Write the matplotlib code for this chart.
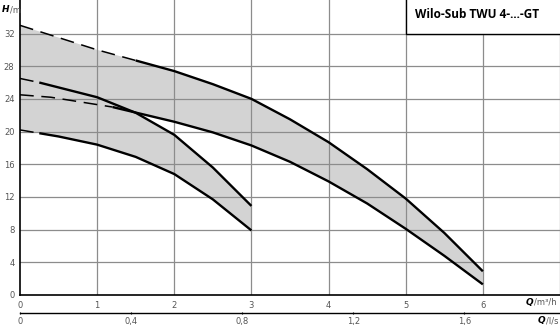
import numpy as np
import matplotlib.pyplot as plt
from matplotlib.patches import Rectangle

# Kennlinien (Q in m³/h, H in m)
top_q = [0, 0.5, 1, 1.5, 2, 2.5, 3, 3.5, 4, 4.5, 5, 5.5, 6]
top_h = [33.0, 31.5, 30.0, 28.7, 27.4, 25.8, 24.0, 21.5, 18.7, 15.4, 11.8, 7.6, 2.9]
top_break = 1.5

low_q = [0, 0.4, 0.8, 1.2, 1.6, 2, 2.5, 3, 3.5, 4, 4.5, 5, 5.5, 6]
low_h = [24.5, 24.2, 23.6, 23.0, 22.1, 21.2, 19.9, 18.3, 16.3, 13.9, 11.2, 8.1, 4.8, 1.3]
low_break = 1.2

mid_q = [0, 0.25, 0.5, 1, 1.5, 2, 2.5, 3]
mid_h = [26.5, 26.0, 25.4, 24.2, 22.3, 19.6, 15.6, 10.9]
mid_break = 0.25

small_q = [0, 0.25, 0.5, 1, 1.5, 2, 2.5, 3]
small_h = [20.2, 19.8, 19.4, 18.4, 16.9, 14.8, 11.7, 7.9]
small_break = 0.25

x_ticks = [0, 1, 2, 3, 4, 5, 6]
y_ticks = [0, 4, 8, 12, 16, 20, 24, 28, 32]
ls_ticks = [0, 0.4, 0.8, 1.2, 1.6]
ls_labels = ['0', '0,4', '0,8', '1,2', '1,6']

W, H = 560, 326
fig = plt.figure(figsize=(W / 100, H / 100), dpi=100)
ax = fig.add_axes([20 / W, 31 / H, 540 / W, 295 / H])
ax.set_xlim(0, 7)
ax.set_ylim(0, 36.1)

fill_col = '#d3d3d3'
# Flaechen zwischen den Kennlinien
ax.fill(top_q + low_q[::-1], top_h + low_h[::-1], color=fill_col, lw=0, zorder=1)
ax.fill(mid_q + small_q[::-1], mid_h + small_h[::-1], color=fill_col, lw=0, zorder=1)

# Gitter
for x in range(1, 8):
    ax.axvline(x, color='#8c8c8c', lw=0.9, zorder=2)
for y in y_ticks[1:]:
    ax.axhline(y, color='#8c8c8c', lw=0.9, zorder=2)


def kurve(q, h, brk):
    q = np.array(q)
    h = np.array(h)
    d = q <= brk
    s = q >= brk
    ax.plot(q[d], h[d], color='black', lw=1.1, dashes=(9, 5), zorder=3)
    ax.plot(q[s], h[s], color='black', lw=1.7, solid_capstyle='butt',
            solid_joinstyle='round', zorder=3)


kurve(top_q, top_h, top_break)
kurve(low_q, low_h, low_break)
kurve(mid_q, mid_h, mid_break)
kurve(small_q, small_h, small_break)

for side in ['top', 'right']:
    ax.spines[side].set_visible(False)
ax.spines['left'].set_linewidth(1.2)
ax.spines['bottom'].set_linewidth(1.2)

tick_col = '#555555'
ax.set_xticks(x_ticks)
ax.set_yticks(y_ticks)
ax.tick_params(length=0, labelsize=6, labelcolor=tick_col, pad=4)

# Titelkasten
ax.add_patch(Rectangle((5, 32), 2.2, 5, facecolor='white', edgecolor='black',
                       lw=1.0, zorder=4, clip_on=False))
ax.text(5.12, 34.3, 'Wilo-Sub TWU 4-...-GT', fontsize=8.5, fontweight='bold',
        family='Open Sans', va='center', ha='left', zorder=5)

# zweite Achse l/s
sec = ax.secondary_xaxis(-0.061, functions=(lambda q: q / 3.6, lambda l: l * 3.6))
sec.set_xticks(ls_ticks)
sec.set_xticklabels(ls_labels)
sec.tick_params(length=2, width=0.8, labelsize=6, labelcolor=tick_col, pad=2,
                direction='inout')
sec.spines['bottom'].set_linewidth(1.0)

# Achsenbeschriftungen
fig.text(2 / W, 1 - 10 / H, 'H', fontsize=6.5, fontweight='bold', style='italic', va='center')
fig.text(9.5 / W, 1 - 10 / H, '/m', fontsize=6, color=tick_col, va='center')
fig.text(526 / W, 1 - 302 / H, 'Q', fontsize=6.5, fontweight='bold', style='italic', va='center')
fig.text(534.5 / W, 1 - 302 / H, '/m³/h', fontsize=6, color=tick_col, va='center')
fig.text(538 / W, 1 - 321 / H, 'Q', fontsize=6.5, fontweight='bold', style='italic', va='center')
fig.text(546.5 / W, 1 - 321 / H, '/l/s', fontsize=6, color=tick_col, va='center')

fig.savefig('out.png', dpi=100)
